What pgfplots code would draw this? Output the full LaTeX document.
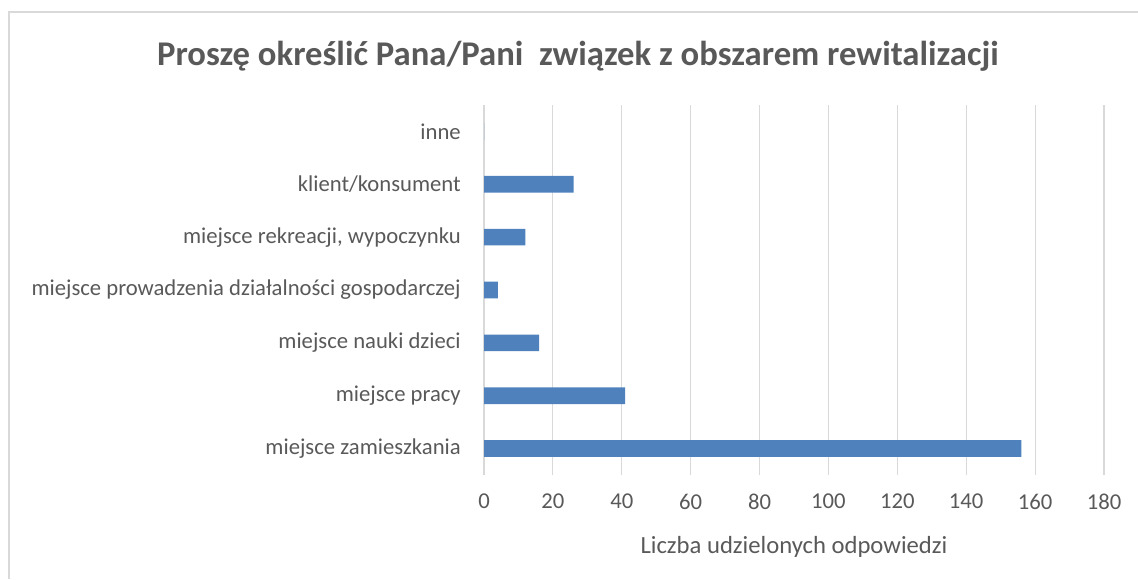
\documentclass[border=0pt]{standalone}
\usepackage{pgfplots}
\pgfplotsset{compat=1.18}
\usepackage{fontspec}
\setmainfont{Carlito}
\definecolor{barblue}{HTML}{4F81BD}
\definecolor{txtgray}{HTML}{595959}
\definecolor{gridgray}{HTML}{D9D9D9}
\begin{document}
\begin{tikzpicture}
\path[use as bounding box] (0,0) rectangle (853.5pt,434.25pt);
% chart frame (only top and left edges visible)
\draw[gridgray, line width=1.5pt] (6.5pt,0) -- (6.5pt,425.5pt) -- (853.5pt,425.5pt);
\node[font=\bfseries\fontsize{26}{30}\selectfont, text=txtgray] at (433.5pt,392pt)
  {Proszę określić Pana/Pani~ związek z obszarem rewitalizacji};
\begin{axis}[
  at={(363pt,78pt)}, anchor=south west,
  scale only axis, width=465pt, height=277.5pt,
  xbar, bar width=12.5pt,
  xmin=0, xmax=180, ymin=-0.5, ymax=6.5,
  axis line style={draw=none},
  tick style={draw=none},
  xmajorgrids, major grid style={gridgray, line width=0.9pt},
  xtick={0,20,...,180},
  ytick={0,...,6},
  yticklabels={miejsce zamieszkania, miejsce pracy, miejsce nauki dzieci,
    miejsce prowadzenia działalności gospodarczej,
    {miejsce rekreacji, wypoczynku}, klient/konsument, inne},
  /pgf/number format/assume math mode=true,
  tick label style={font=\fontsize{17}{19}\selectfont, text=txtgray},
  xticklabel style={anchor=center, yshift=-20pt},
  yticklabel style={anchor=east, inner sep=0pt, xshift=-13pt},
  xlabel={Liczba udzielonych odpowiedzi},
  xlabel style={font=\fontsize{18.5}{21}\selectfont, text=txtgray,
    at={(axis description cs:0.5,0)}, anchor=center, yshift=-54pt},
]
\addplot[fill=barblue, draw=none]
  coordinates {(156,0) (41,1) (16,2) (4,3) (12,4) (26,5) (0,6)};
\end{axis}
\end{tikzpicture}
\end{document}
